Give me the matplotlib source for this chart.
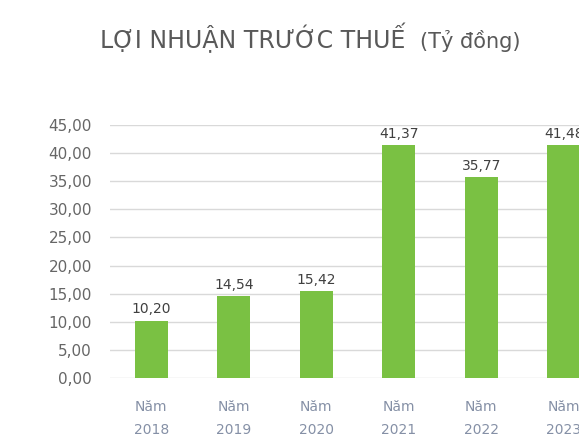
import matplotlib

matplotlib.use("Agg")

import matplotlib.pyplot as plt

years = ["Năm\n2018", "Năm\n2019", "Năm\n2020", "Năm\n2021", "Năm\n2022", "Năm\n2023"]
profit = [10.20, 14.54, 15.42, 41.37, 35.77, 41.48]
y_ticks = [0, 5, 10, 15, 20, 25, 30, 35, 40, 45]

GREEN = "#7ac143"
GRID = "#d9d9d9"

fig = plt.figure(figsize=(5.79, 4.43), dpi=100)
# the source is a crop: the plot area runs past the right edge of the picture
ax = fig.add_axes([110 / 579, 65 / 443, 495 / 579, 253 / 443])

x = range(len(years))
ax.bar(x, profit, width=0.4, color=GREEN, zorder=2)

for xi, val in zip(x, profit):
    ax.annotate(f"{val:.2f}".replace(".", ","), (xi, val), xytext=(0, 3),
                textcoords="offset points", ha="center", va="bottom",
                fontsize=10, color="#404040")

ax.set_xlim(-0.5, len(years) - 0.5)
ax.set_ylim(0, 45)
ax.set_yticks(y_ticks)
ax.set_yticklabels([f"{t:.2f}".replace(".", ",") for t in y_ticks])
ax.set_xticks(list(x))
ax.set_xticklabels(years, linespacing=1.8)

ax.grid(axis="y", color=GRID, linewidth=1, zorder=0)
for spine in ax.spines.values():
    spine.set_visible(False)
ax.tick_params(axis="y", length=0, pad=13, labelsize=11, labelcolor="#666666")
ax.tick_params(axis="x", length=0, pad=16, labelsize=10, labelcolor="#8590a6")

fig.text(100 / 579, 1 - 48 / 443, "LỢI NHUẬN TRƯỚC THUẾ", fontsize=17,
         color="#595959", ha="left", va="baseline")
fig.text(420 / 579, 1 - 48 / 443, "(Tỷ đồng)", fontsize=15,
         color="#595959", ha="left", va="baseline")

fig.savefig("out.png", dpi=100)
